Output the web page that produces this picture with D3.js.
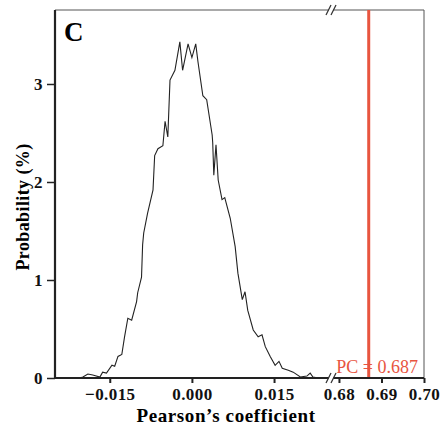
<!DOCTYPE html>
<html>
<head>
<meta charset="utf-8">
<script src="https://cdn.jsdelivr.net/npm/d3@7"></script>
<style>
  body { margin: 0; background: #fff; }
  text { font-family: "Liberation Serif", "Times New Roman", serif; }
</style>
</head>
<body>
<div id="chart"></div>
<script>
// null distribution of Pearson's coefficient
const coef = [-0.0205, -0.0199, -0.0190, -0.0181, -0.0168, -0.0163, -0.0156, -0.0146, -0.0141,
  -0.0135, -0.0128, -0.0123, -0.0117, -0.0110, -0.0101, -0.0099, -0.0092, -0.0090, -0.0088,
  -0.0081, -0.0071, -0.0068, -0.0062, -0.0053, -0.0049, -0.0044, -0.0040, -0.0031, -0.0022,
  -0.0017, -0.0007, 0.0000, 0.0007, 0.0011, 0.0020, 0.0027, 0.0037, 0.0038, 0.0040, 0.0044,
  0.0048, 0.0055, 0.0060, 0.0070, 0.0079, 0.0084, 0.0092, 0.0097, 0.0102, 0.0112, 0.0121,
  0.0128, 0.0134, 0.0143, 0.0152, 0.0159, 0.0165, 0.0176, 0.0185, 0.0198, 0.0210, 0.0216,
  0.0221, 0.0231];
const prob = [0.00, 0.01, 0.04, 0.03, 0.01, 0.06, 0.05, 0.13, 0.12,
  0.22, 0.24, 0.42, 0.61, 0.59, 0.78, 0.87, 1.03, 1.36, 1.48,
  1.68, 1.92, 2.27, 2.34, 2.37, 2.62, 2.46, 3.04, 3.14, 3.43,
  3.14, 3.41, 3.27, 3.41, 3.23, 2.88, 2.84, 2.48, 2.40, 2.07, 2.38,
  2.02, 1.82, 1.84, 1.63, 1.34, 1.07, 0.80, 0.88, 0.69, 0.49, 0.42,
  0.44, 0.32, 0.22, 0.13, 0.17, 0.10, 0.08, 0.06, 0.01, 0.02, 0.05,
  0.01, 0.00];
const observedPC = 0.687;
const leftTicks = [-0.015, 0.000, 0.015];
const rightTicks = [0.68, 0.69, 0.70];
const yTicks = [0, 1, 2, 3];

const width = 443, height = 428;
const mLeft = 55, mRight = 424, mTop = 10, mBottom = 378;
const breakX = 331;

const svg = d3.select("#chart").append("svg")
  .attr("width", width).attr("height", height);

// broken x axis: two linear pieces
const xL = d3.scaleLinear().domain([-0.025, 0.0254]).range([mLeft, breakX]);
const xR = d3.scaleLinear().domain([0.6786, 0.70]).range([breakX + 2, mRight]);
const y = d3.scaleLinear().domain([0, 3.755]).range([mBottom, mTop]);

// frame top / right (thin gray)
svg.append("path")
  .attr("d", `M${mLeft},${mTop}H${mRight}V${mBottom}`)
  .attr("fill", "none").attr("stroke", "#555").attr("stroke-width", 1);

// curve
svg.append("path")
  .datum(coef.map((c, i) => [c, prob[i]]))
  .attr("fill", "none")
  .attr("stroke", "#222")
  .attr("stroke-width", 1.1)
  .attr("d", d3.line().x(d => xL(d[0])).y(d => y(d[1])));

// observed value line
svg.append("line")
  .attr("x1", xR(observedPC)).attr("x2", xR(observedPC))
  .attr("y1", mTop).attr("y2", mBottom)
  .attr("stroke", "#e8553f").attr("stroke-width", 3);

svg.append("text")
  .attr("x", mRight - 6).attr("y", mBottom - 5)
  .attr("text-anchor", "end")
  .attr("fill", "#e8553f")
  .style("font-size", "18px")
  .text("PC = " + observedPC);

// axes
const tickFont = g => g.selectAll("text")
  .style("font-family", "Liberation Serif, serif")
  .style("font-size", "17px").style("font-weight", "bold")
  .style("letter-spacing", "0.4px").attr("fill", "#111");

const axL = svg.append("g")
  .attr("transform", `translate(0,${mBottom})`)
  .call(d3.axisBottom(xL).tickValues(leftTicks).tickSize(5).tickPadding(5)
    .tickFormat(d => d3.format(".3f")(d).replace("-", "\u2013")))
  .call(tickFont);
const axR = svg.append("g")
  .attr("transform", `translate(0,${mBottom})`)
  .call(d3.axisBottom(xR).tickValues(rightTicks).tickSize(5).tickPadding(5)
    .tickFormat(d3.format(".2f")))
  .call(tickFont);
[axL, axR].forEach(a => {
  a.select(".domain").attr("stroke-width", 2.2).attr("stroke", "#222");
  a.selectAll(".tick line").attr("stroke-width", 2).attr("stroke", "#222");
});
axL.select(".domain").attr("d", `M${mLeft},0H${breakX}`);
axR.select(".domain").attr("d", `M${breakX},0H${mRight}`);

const axY = svg.append("g")
  .attr("transform", `translate(${mLeft},0)`)
  .call(d3.axisLeft(y).tickValues(yTicks).tickSize(8).tickPadding(4)
    .tickFormat(d3.format("d")))
  .call(tickFont);
axY.select(".domain").attr("d", `M0,${mTop}V${mBottom}`)
  .attr("stroke-width", 2.2).attr("stroke", "#222");
axY.selectAll(".tick line").attr("stroke-width", 1.5).attr("stroke", "#222");

// break marks
const breakMark = (cy) => {
  svg.append("rect").attr("x", breakX - 2).attr("y", cy - 2)
    .attr("width", 4).attr("height", 4).attr("fill", "#fff");
  [-2.5, 2.5].forEach(dx => {
    svg.append("line")
      .attr("x1", breakX + dx - 2.5).attr("y1", cy + 5)
      .attr("x2", breakX + dx + 2.5).attr("y2", cy - 5)
      .attr("stroke", "#333").attr("stroke-width", 1.3);
  });
};
breakMark(mTop);
breakMark(mBottom);

// labels
svg.append("text")
  .attr("x", 226).attr("y", 422)
  .attr("text-anchor", "middle")
  .style("font-size", "19px").style("font-weight", "bold")
  .style("letter-spacing", "0.6px")
  .text("Pearson\u2019s coefficient");

svg.append("text")
  .attr("transform", "translate(29,207) rotate(-90)")
  .attr("text-anchor", "middle")
  .style("font-size", "18px").style("font-weight", "bold")
  .style("letter-spacing", "0.4px")
  .text("Probability (%)");

svg.append("text")
  .attr("x", 64).attr("y", 41)
  .style("font-size", "27px").style("font-weight", "bold")
  .text("C");
</script>
</body>
</html>
